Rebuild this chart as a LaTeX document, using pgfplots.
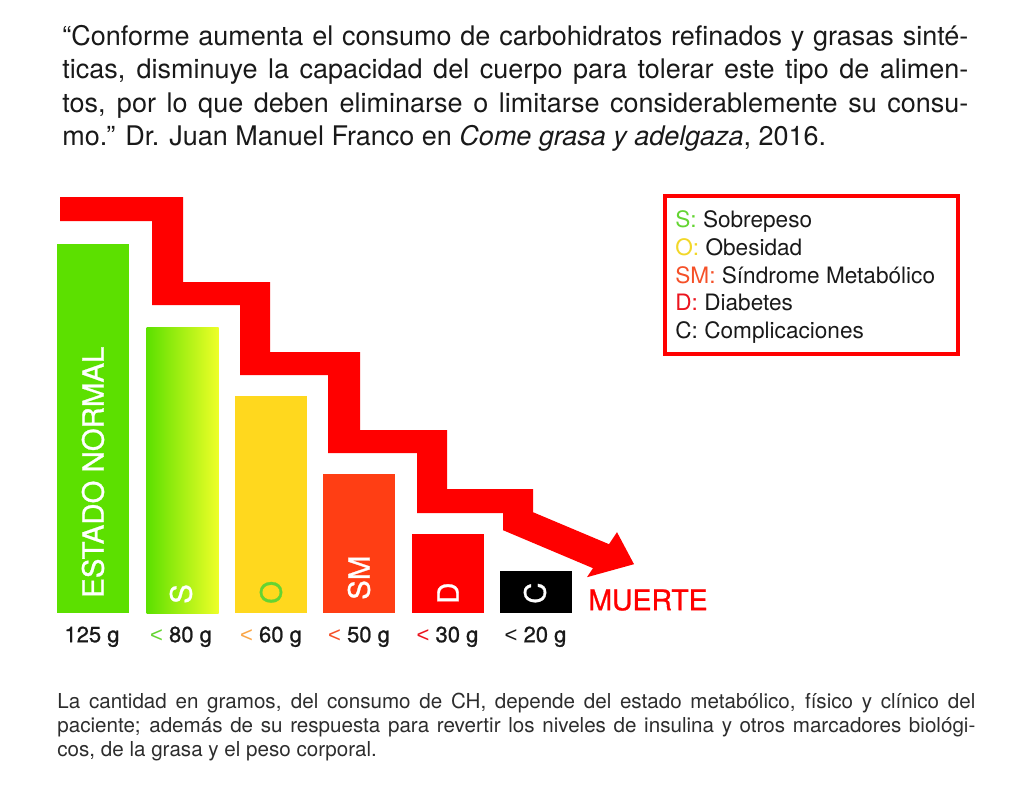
\documentclass[border=0pt]{standalone}
\usepackage{pgfplots}
\pgfplotsset{compat=1.18}
\usepackage{fontspec}
\setmainfont{TeX Gyre Heros}
\newfontfamily\medfont{TeX Gyre Heros}[FakeBold=0.9]
\newfontfamily\ltfont{Liberation Sans}
\newcommand{\lt}[1]{\textcolor{#1}{\ltfont <}}
\definecolor{cnormal}{RGB}{92,224,0}
\definecolor{cyel}{RGB}{238,255,40}
\definecolor{cgold}{RGB}{255,216,30}
\definecolor{corange}{RGB}{255,62,20}
\definecolor{cred}{RGB}{255,0,0}
\definecolor{lgreen}{RGB}{100,212,50}
\definecolor{lyellow}{RGB}{242,215,40}
\definecolor{lorange}{RGB}{245,80,40}
\definecolor{lred}{RGB}{235,20,30}
\definecolor{ltorange}{RGB}{250,165,70}
\definecolor{txt}{RGB}{25,25,25}
\definecolor{captxt}{RGB}{45,45,45}
\begin{document}
\begin{tikzpicture}
\begin{axis}[
  x=0.5pt, y=0.5pt,
  xmin=0, xmax=1024, ymin=0, ymax=613,
  axis line style={draw=none},
  ytick=\empty,
  major tick length=0pt,
  xtick={92,181,271,359,447.5,535.5},
  xticklabels={125 g,
    {\lt{lgreen} 80 g},
    {\lt{ltorange} 60 g},
    {\lt{lorange} 50 g},
    {\lt{lred} 30 g},
    {\lt{txt} 20 g}},
  xticklabel style={anchor=base, yshift=-14.5pt, text=txt,
    font=\medfont\fontsize{11}{12}\selectfont},
  clip=false,
]
% bounding box of the whole canvas
\path (axis cs:0,-178) rectangle (axis cs:1024,613);

% bars
\addplot[ybar, bar width=72, bar shift=0pt, fill=cnormal, draw=none] coordinates {(93,369)};
\addplot[ybar, bar width=72, bar shift=0pt, draw=none, left color=cnormal, right color=cyel] coordinates {(182.5,286)};
\addplot[ybar, bar width=72, bar shift=0pt, fill=cgold, draw=none] coordinates {(271,217)};
\addplot[ybar, bar width=72, bar shift=0pt, fill=corange, draw=none] coordinates {(359,139)};
\addplot[ybar, bar width=72, bar shift=0pt, fill=cred, draw=none] coordinates {(447.5,79)};
\addplot[ybar, bar width=72, bar shift=0pt, fill=black, draw=none] coordinates {(535.5,42)};

% staircase arrow
\addplot[fill=cred, draw=none] coordinates {
 (60,416) (183,416) (183,331) (270,331) (270,261) (360,261) (360,183)
 (447,183) (447,124) (533,124) (533,101) (609,69) (617,81) (634,49)
 (587,36) (593,45) (503,83) (503,100) (417,100) (417,160) (328,160)
 (328,238) (240,238) (240,308) (152,308) (152,392) (60,392)} -- cycle;

% bar labels
\begin{scope}[every node/.style={rotate=90, anchor=west, inner sep=0pt, font=\medfont\fontsize{14.7}{16}\selectfont}]
\node[text=white] at (axis cs:93,15) {ESTADO NORMAL};
\node[text=white] at (axis cs:181,9) {S};
\node[text=lgreen] at (axis cs:271,9) {O};
\node[text=white] at (axis cs:359,13) {SM};
\node[text=white] at (axis cs:448,9) {D};
\node[text=white] at (axis cs:535,9) {C};
\end{scope}

\node[anchor=base west, inner sep=0pt, text=cred, font=\medfont\fontsize{14.2}{16}\selectfont] at (axis cs:588,3) {MUERTE};

% legend box
\addplot[draw=cred, line width=2pt] coordinates {(665,417) (958,417) (958,259) (665,259)} -- cycle;
\begin{scope}[every node/.style={anchor=base west, inner sep=0pt, text=txt, font=\fontsize{11.3}{13}\selectfont}]
\node at (axis cs:675,386) {\textcolor{lgreen}{S:} Sobrepeso};
\node at (axis cs:675,358) {\textcolor{lyellow}{O:} Obesidad};
\node at (axis cs:675,330) {\textcolor{lorange}{SM:} Síndrome Metabólico};
\node at (axis cs:675,303) {\textcolor{lred}{D:} Diabetes};
\node at (axis cs:675,275) {C: Complicaciones};
\end{scope}

% quote
\node[anchor=base west, inner sep=0pt, text=txt, font=\fontsize{13.5}{16.75}\selectfont] at (axis cs:62,568) {\parbox[t]{453pt}{%
\makebox[453pt][s]{“Conforme aumenta el consumo de carbohidratos refinados y grasas sinté-}\\
\makebox[453pt][s]{ticas, disminuye la capacidad del cuerpo para tolerar este tipo de alimen-}\\
\makebox[453pt][s]{tos, por lo que deben eliminarse o limitarse considerablemente su consu-}\\
mo.” Dr. Juan Manuel Franco en \textit{Come grasa y adelgaza}, 2016.}};

% caption
\node[anchor=base west, inner sep=0pt, text=captxt, font=\fontsize{10.3}{12}\selectfont] at (axis cs:57,-95) {\parbox[t]{459pt}{%
\makebox[459pt][s]{La cantidad en gramos, del consumo de CH, depende del estado metabólico, físico y clínico del}\\
\makebox[459pt][s]{paciente; además de su respuesta para revertir los niveles de insulina y otros marcadores biológi-}\\
cos, de la grasa y el peso corporal.}};
\end{axis}
\end{tikzpicture}
\end{document}
